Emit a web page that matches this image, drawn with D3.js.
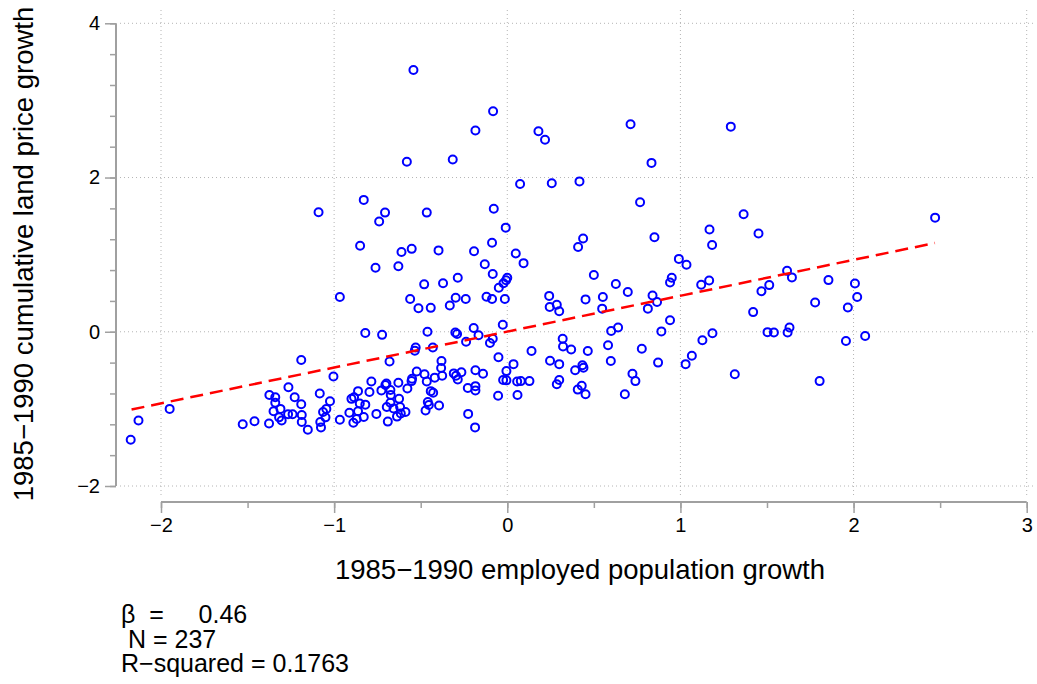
<!DOCTYPE html>
<html lang="en">
<head>
<meta charset="utf-8">
<title>Land price growth vs employed population growth</title>
<script src="https://d3js.org/d3.v7.min.js"></script>
<style>
body { margin: 0; background: #fff; }
text { font-family: "Liberation Sans", Arial, Helvetica, sans-serif; fill: #000; }
</style>
</head>
<body>
<div id="chart"></div>
<script>
// points: [employed population growth, land price growth]
var pts = [
  [-2.175,-1.40],[-2.13,-1.15],[-1.95,-1.00],[-0.967,0.45],[-1.19,-0.365],[-1.004,-0.58],[-1.264,-0.72],
  [-1.374,-0.82],[-1.34,-0.85],[-1.34,-0.92],[-1.228,-0.85],[-1.19,-0.94],[-1.083,-0.80],[-1.024,-0.90],
  [-1.045,-1.00],[-1.064,-1.04],[-1.05,-1.11],[-1.08,-1.17],[-1.076,-1.24],[-0.967,-1.14],[-1.152,-1.27],
  [-1.187,-1.17],[-1.187,-1.08],[-1.24,-1.07],[-1.266,-1.07],[-1.31,-1.00],[-1.35,-1.03],[-1.318,-1.11],
  [-1.303,-1.15],[-1.376,-1.19],[-1.46,-1.16],[-1.528,-1.20],[-0.912,-1.05],[-0.889,-1.18],[-0.90,-0.87],
  [-0.885,-0.85],[-0.862,-0.77],[-0.87,-1.13],[-0.862,-1.03],
  [-0.761,0.83],[-0.629,0.85],[-0.13,0.875],[0.094,0.89],[-0.084,0.75],[0,0.70],[-0.007,0.667],
  [-0.022,0.63],[-0.049,0.57],[-0.48,0.615],[-0.371,0.63],[-0.286,0.70],[-0.561,0.425],[-0.513,0.305],
  [-0.442,0.31],[-0.332,0.34],[-0.298,0.44],[-0.24,0.425],[-0.12,0.455],[-0.088,0.425],[-0.014,0.425],
  [0.242,0.465],[0.245,0.32],[0.286,0.35],[0.30,0.265],[0.452,0.42],[0.50,0.735],[0.552,0.45],[0.548,0.30],
  [-0.82,-0.015],[-0.723,-0.04],[-0.461,0.0],[-0.30,-0.01],[-0.29,-0.03],[-0.194,0.05],[-0.166,-0.045],
  [-0.026,0.09],[-0.238,-0.13],[-0.084,-0.09],[-0.10,-0.145],[-0.529,-0.205],[-0.534,-0.245],[-0.43,-0.205],
  [-0.68,-0.385],[-0.051,-0.33],[0.14,-0.25],[0.32,-0.09],[0.322,-0.19],[0.369,-0.23],[0.465,-0.25],
  [0.247,-0.375],[0.30,-0.42],[0.392,-0.50],[0.434,-0.435],[0.44,-0.465],[0.286,-0.68],[0.30,-0.625],
  [0.407,-0.75],[0.43,-0.70],[0.452,-0.81],[0.036,-0.42],[-0.005,-0.51],[-0.024,-0.625],[-0.005,-0.63],
  [0.057,-0.645],[0.078,-0.64],[0.128,-0.64],[-0.053,-0.83],[0.059,-0.82],[-0.184,-0.50],[-0.14,-0.545],
  [-0.309,-0.54],[-0.296,-0.57],[-0.286,-0.62],[-0.265,-0.525],[-0.38,-0.38],[-0.382,-0.47],[-0.376,-0.57],
  [-0.419,-0.595],[-0.478,-0.55],[-0.465,-0.645],[-0.523,-0.515],[-0.55,-0.61],[-0.553,-0.64],[-0.577,-0.735],
  [-0.629,-0.66],[-0.698,-0.67],[-0.704,-0.69],[-0.785,-0.645],[-0.727,-0.76],[-0.675,-0.755],[-0.673,-0.82],
  [-0.796,-0.78],[-0.625,-0.87],[-0.675,-0.92],[-0.696,-0.975],[-0.657,-0.995],[-0.619,-0.975],[-0.588,-1.04],
  [-0.615,-1.06],[-0.637,-1.10],[-0.69,-1.165],[-0.756,-1.065],[-0.829,-1.105],[-0.82,-0.945],[-0.852,-0.93],
  [-0.442,-0.77],[-0.428,-0.79],[-0.459,-0.91],[-0.453,-0.95],[-0.472,-1.02],[-0.394,-0.955],[-0.228,-0.73],
  [-0.184,-0.705],[-0.184,-0.76],[-0.226,-1.065],[-0.186,-1.24],
  [0.991,0.945],[1.035,0.87],[0.627,0.62],[0.696,0.515],[0.839,0.47],[0.865,0.385],[0.812,0.30],[0.95,0.70],
  [0.94,0.64],[0.94,0.15],[1.12,0.61],[1.166,0.665],[0.89,0.005],[0.60,0.01],[0.64,0.055],[0.582,-0.175],
  [0.598,-0.38],[0.777,-0.22],[0.871,-0.40],[0.723,-0.545],[0.74,-0.64],[0.679,-0.81],[1.127,-0.11],
  [1.185,-0.02],[1.066,-0.31],[1.03,-0.42],[1.314,-0.55],[1.42,0.255],[1.468,0.525],[1.513,0.605],
  [1.616,0.79],[1.644,0.705],[1.503,-0.005],[1.54,-0.01],[1.63,0.055],[1.619,-0.01],[1.778,0.38],
  [1.855,0.67],[1.804,-0.64],[2.008,0.625],[2.021,0.45],[1.967,0.315],[1.956,-0.12],[2.067,-0.055],
  [-0.542,3.395],[-0.082,2.86],[-0.184,2.61],[0.18,2.60],[0.218,2.49],[-0.58,2.205],[-0.315,2.235],
  [0.074,1.915],[0.257,1.925],[0.417,1.95],[-1.09,1.55],[-0.829,1.71],[-0.706,1.545],[-0.74,1.43],
  [-0.465,1.545],[-0.078,1.595],[-0.009,1.35],[0.438,1.21],[0.409,1.10],[-0.85,1.115],[-0.611,1.035],
  [-0.552,1.075],[-0.397,1.055],[-0.192,1.045],[-0.088,1.155],[0.049,1.015],
  [0.712,2.69],[1.291,2.66],[0.833,2.19],[0.767,1.68],[0.85,1.225],[1.168,1.325],[1.183,1.125],
  [1.365,1.525],[1.451,1.275],[2.471,1.48]
];

// fitted line end points
var fitX = [-2.17, 2.47];
var fitY = [-1.008, 1.151];

var xTicks = [-2, -1, 0, 1, 2, 3];
var yTicks = [-2, 0, 2, 4];
var statLines = ["\u03B2  =     0.46", " N = 237", "R\u2212squared = 0.1763"];

var W = 1037, H = 684;

var svg = d3.select("#chart").append("svg")
  .attr("width", W).attr("height", H);

var x = d3.scaleLinear().domain([-2, 3]).range([161, 1026.7]);
var y = d3.scaleLinear().domain([-2, 4]).range([486, 23.3]);

var fmt = function(d){ return d < 0 ? "\u2212" + Math.abs(d) : "" + d; };

// grid (plot region is a bit larger than the axes)
var grid = svg.append("g")
  .attr("stroke", "#b4b4b4").attr("stroke-width", 1).attr("stroke-dasharray", "1,3");
grid.selectAll(".gx").data(xTicks).enter().append("line")
  .attr("x1", function(d){ return x(d); }).attr("x2", function(d){ return x(d); })
  .attr("y1", 10).attr("y2", 497);
grid.selectAll(".gy").data(yTicks).enter().append("line")
  .attr("y1", function(d){ return y(d); }).attr("y2", function(d){ return y(d); })
  .attr("x1", 120).attr("x2", 1036);

// axes
var axisCol = "#a0a0a0";
var xAxis = svg.append("g").attr("transform", "translate(0,502)")
  .call(d3.axisBottom(x).tickValues(d3.range(-2, 3.01, 0.5)).tickSize(6).tickFormat(""));
var xAxisMaj = svg.append("g").attr("transform", "translate(0,502)")
  .call(d3.axisBottom(x).tickValues(xTicks).tickSize(11).tickPadding(5).tickFormat(fmt));
var yAxis = svg.append("g").attr("transform", "translate(116,0)")
  .call(d3.axisLeft(y).tickValues(d3.range(-2, 4.01, 0.4)).tickSize(6).tickFormat(""));
var yAxisMaj = svg.append("g").attr("transform", "translate(116,0)")
  .call(d3.axisLeft(y).tickValues(yTicks).tickSize(11).tickPadding(5).tickFormat(fmt));

[xAxis, xAxisMaj, yAxis, yAxisMaj].forEach(function(a){
  a.selectAll("path.domain").attr("stroke", axisCol).attr("stroke-width", 2);
  a.selectAll(".tick line").attr("stroke", axisCol).attr("stroke-width", 1.5);
  a.selectAll("text").attr("font-size", 20).attr("fill", "#000")
    .attr("font-family", "'Liberation Sans', Arial, sans-serif");
});
xAxis.select("path.domain").attr("d", "M" + x(-2) + ",0H" + x(3));
yAxis.select("path.domain").attr("d", "M0," + y(-2) + "V" + y(4));
xAxisMaj.select("path.domain").remove();
yAxisMaj.select("path.domain").remove();

// points
svg.append("g").selectAll("circle").data(pts).enter().append("circle")
  .attr("cx", function(d){ return x(d[0]); })
  .attr("cy", function(d){ return y(d[1]); })
  .attr("r", 4)
  .attr("fill", "none")
  .attr("stroke", "#0000ff")
  .attr("stroke-width", 2);

// fitted line
svg.append("path")
  .datum(d3.zip(fitX, fitY))
  .attr("d", d3.line().x(function(d){ return x(d[0]); }).y(function(d){ return y(d[1]); }))
  .attr("fill", "none")
  .attr("stroke", "#ff0000")
  .attr("stroke-width", 2.5)
  .attr("stroke-dasharray", "13,7");

// axis titles
svg.append("text")
  .attr("x", 580).attr("y", 579)
  .attr("text-anchor", "middle")
  .attr("font-size", 27.5)
  .text("1985\u22121990 employed population growth");

svg.append("text")
  .attr("transform", "translate(33,254) rotate(-90)")
  .attr("text-anchor", "middle")
  .attr("font-size", 27.5)
  .text("1985\u22121990 cumulative land price growth");

// regression notes
svg.append("g").selectAll("text").data(statLines).enter().append("text")
  .attr("x", 121)
  .attr("y", function(d, i){ return 623 + i * 24.5; })
  .attr("font-size", 25)
  .style("white-space", "pre")
  .text(function(d){ return d; });
</script>
</body>
</html>
